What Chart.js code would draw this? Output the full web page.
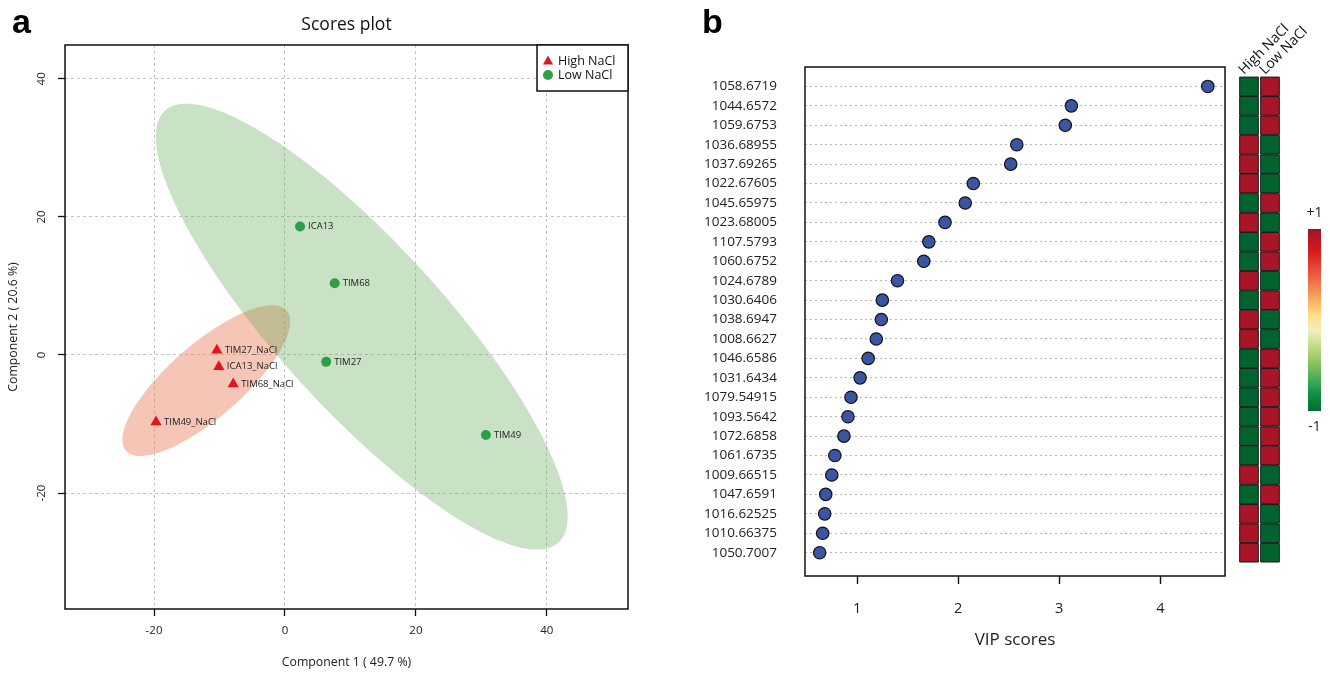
<!DOCTYPE html>
<html>
<head>
<meta charset="utf-8">
<script src="https://cdn.jsdelivr.net/npm/chart.js@4.4.0/dist/chart.umd.min.js"></script>
<style>
  html, body { margin: 0; padding: 0; background: #fff; width: 1330px; height: 674px; overflow: hidden; }
  body { position: relative; }
  canvas { position: absolute; top: 0; }
  #scores { left: 0; }
  #vip { left: 690px; }
  #heat { left: 1230px; }
</style>
</head>
<body>
<canvas id="scores" width="660" height="674"></canvas>
<canvas id="vip" width="545" height="674"></canvas>
<canvas id="heat" width="100" height="674"></canvas>
<script>
// ---- panel a: PLS-DA scores ----
const highNames = ['TIM27_NaCl', 'ICA13_NaCl', 'TIM68_NaCl', 'TIM49_NaCl'];
const highX = [-10.4, -10.1, -7.9, -19.7];
const highY = [0.7, -1.7, -4.2, -9.7];
const lowNames = ['ICA13', 'TIM68', 'TIM27', 'TIM49'];
const lowX = [2.3, 7.6, 6.3, 30.7];
const lowY = [18.6, 10.4, -1.0, -11.6];
const scoreTicks = [-20, 0, 20, 40];

// ---- panel b: VIP scores + group heatmap ----
const features = ['1058.6719', '1044.6572', '1059.6753', '1036.68955', '1037.69265', '1022.67605',
  '1045.65975', '1023.68005', '1107.5793', '1060.6752', '1024.6789', '1030.6406', '1038.6947',
  '1008.6627', '1046.6586', '1031.6434', '1079.54915', '1093.5642', '1072.6858', '1061.6735',
  '1009.66515', '1047.6591', '1016.62525', '1010.66375', '1050.7007'];
const vipScores = [4.47, 3.12, 3.06, 2.58, 2.52, 2.15, 2.07, 1.87, 1.71, 1.66, 1.40, 1.25, 1.24,
  1.19, 1.11, 1.03, 0.94, 0.91, 0.87, 0.78, 0.75, 0.69, 0.68, 0.66, 0.63];
const vipTicks = [1, 2, 3, 4];
const groups = ['High NaCl', 'Low NaCl'];
const highNaCl = [-1, -1, -1, 1, 1, 1, -1, 1, -1, -1, 1, -1, 1, 1, -1, -1, -1, -1, -1, -1, 1, -1, 1, 1, 1];
const lowNaCl = [1, 1, 1, -1, -1, -1, 1, -1, 1, 1, -1, 1, -1, -1, 1, 1, 1, 1, 1, 1, -1, 1, -1, -1, -1];

Chart.defaults.font.family = "'Open Sans', sans-serif";
Chart.defaults.color = '#222';

const RED = '#e3141f', GREEN = '#2e9f49';

function ellipse(chart, xs, ys, fill) {
  // 95% confidence ellipse (same as R ellipse(cov, centre, level = .95))
  const n = xs.length;
  const mx = xs.reduce((a, b) => a + b) / n, my = ys.reduce((a, b) => a + b) / n;
  let sxx = 0, syy = 0, sxy = 0;
  for (let i = 0; i < n; i++) {
    sxx += (xs[i] - mx) ** 2; syy += (ys[i] - my) ** 2; sxy += (xs[i] - mx) * (ys[i] - my);
  }
  const sx = Math.sqrt(sxx / (n - 1)), sy = Math.sqrt(syy / (n - 1));
  const d = Math.acos(sxy / (n - 1) / (sx * sy));
  const t = Math.sqrt(5.991);
  const xs_ = chart.scales.x, ys_ = chart.scales.y, ctx = chart.ctx;
  ctx.save();
  ctx.beginPath();
  for (let k = 0; k <= 240; k++) {
    const a = 2 * Math.PI * k / 240;
    const px = xs_.getPixelForValue(mx + t * sx * Math.cos(a + d / 2));
    const py = ys_.getPixelForValue(my + t * sy * Math.cos(a - d / 2));
    k ? ctx.lineTo(px, py) : ctx.moveTo(px, py);
  }
  ctx.closePath();
  ctx.fillStyle = fill;
  ctx.fill();
  ctx.restore();
}

const scoresPlugin = {
  id: 'scoresExtras',
  beforeDatasetsDraw(chart) {
    ellipse(chart, highX, highY, 'rgba(232,118,78,0.42)');
    ellipse(chart, lowX, lowY, 'rgba(92,165,78,0.33)');
  },
  afterDatasetsDraw(chart) {
    const ctx = chart.ctx, a = chart.chartArea;
    ctx.save();
    // point labels
    ctx.font = "9.5px 'Open Sans'";
    ctx.fillStyle = '#222';
    ctx.textBaseline = 'middle';
    [highNames, lowNames].forEach((names, di) => {
      chart.getDatasetMeta(di).data.forEach((pt, i) => ctx.fillText(names[i], pt.x + 8, pt.y));
    });
    // frame
    ctx.strokeStyle = '#111';
    ctx.lineWidth = 1.5;
    ctx.strokeRect(a.left, a.top, a.right - a.left, a.bottom - a.top);
    // legend
    const lx = a.right - 91, ly = a.top, lw = 91, lh = 46;
    ctx.fillStyle = '#fff';
    ctx.fillRect(lx, ly, lw, lh);
    ctx.strokeRect(lx, ly, lw, lh);
    ctx.font = "12.5px 'Open Sans'";
    chart.data.datasets.forEach((ds, i) => {
      const cy = ly + 16 + i * 14;
      ctx.fillStyle = ds.backgroundColor;
      ctx.beginPath();
      if (ds.pointStyle === 'triangle') {
        ctx.moveTo(lx + 11, cy - 5.5); ctx.lineTo(lx + 16, cy + 3.5); ctx.lineTo(lx + 6, cy + 3.5);
      } else {
        ctx.arc(lx + 11, cy, 5, 0, 2 * Math.PI);
      }
      ctx.fill();
      ctx.fillStyle = '#111';
      ctx.fillText(ds.label, lx + 21, cy);
    });
    // title and panel letter
    ctx.textAlign = 'center';
    ctx.font = "17.5px 'Open Sans'";
    ctx.fillText('Scores plot', (a.left + a.right) / 2, 25);
    ctx.textAlign = 'left';
    ctx.textBaseline = 'alphabetic';
    ctx.font = "bold 34px 'Liberation Sans', Arial";
    ctx.fillStyle = '#000';
    ctx.fillText('a', 12, 33);
    ctx.restore();
  }
};

const gridA = { color: '#c4c4c4', lineWidth: 1, tickLength: 7, tickColor: '#111', tickWidth: 1.3 };

new Chart(document.getElementById('scores'), {
  type: 'scatter',
  data: {
    datasets: [
      { label: 'High NaCl', data: highX.map((x, i) => ({ x, y: highY[i] })), pointStyle: 'triangle',
        pointRadius: 6.5, backgroundColor: RED, borderColor: RED, borderWidth: 0 },
      { label: 'Low NaCl', data: lowX.map((x, i) => ({ x, y: lowY[i] })), pointStyle: 'circle',
        pointRadius: 5, backgroundColor: GREEN, borderColor: GREEN, borderWidth: 0 }
    ]
  },
  options: {
    responsive: false,
    animation: false,
    layout: { padding: { top: 45, right: 32, left: 0, bottom: 0 } },
    plugins: { legend: { display: false }, tooltip: { enabled: false } },
    scales: {
      x: {
        min: -33.6, max: 52.4,
        afterBuildTicks: s => { s.ticks = scoreTicks.map(v => ({ value: v })); },
        afterFit: s => { s.height = 65; },
        grid: gridA,
        border: { display: false, dash: [3, 3] },
        ticks: { padding: 8, font: { size: 11.5 } },
        title: { display: true, text: 'Component 1 ( 49.7 %)', font: { size: 12.3 }, padding: { top: 0, bottom: 4 } }
      },
      y: {
        min: -36.8, max: 44.9,
        afterBuildTicks: s => { s.ticks = scoreTicks.map(v => ({ value: v })); },
        afterFit: s => { s.width = 65; },
        grid: gridA,
        border: { display: false, dash: [3, 3] },
        ticks: { padding: 8, minRotation: 90, maxRotation: 90, crossAlign: 'center', font: { size: 11.5 } },
        title: { display: true, text: 'Component 2 ( 20.6 %)', font: { size: 12.3 }, padding: { top: 6.5, bottom: 0 } }
      }
    }
  },
  plugins: [scoresPlugin]
});

// ---- VIP dot plot ----
const vipPlugin = {
  id: 'vipExtras',
  afterDatasetsDraw(chart) {
    const ctx = chart.ctx, a = chart.chartArea;
    ctx.save();
    ctx.strokeStyle = '#111';
    ctx.lineWidth = 1.5;
    ctx.strokeRect(a.left, a.top, a.right - a.left, a.bottom - a.top);
    ctx.font = "bold 34px 'Liberation Sans', Arial";
    ctx.fillStyle = '#000';
    ctx.fillText('b', 12, 33);
    ctx.restore();
  }
};

new Chart(document.getElementById('vip'), {
  type: 'scatter',
  data: {
    datasets: [{
      data: vipScores.map((v, i) => ({ x: v, y: i })),
      pointRadius: 6.2, backgroundColor: '#3b55a5', borderColor: '#111', borderWidth: 1.2
    }]
  },
  options: {
    responsive: false,
    animation: false,
    layout: { padding: { top: 67, right: 10, left: 0, bottom: 0 } },
    plugins: { legend: { display: false }, tooltip: { enabled: false } },
    scales: {
      x: {
        min: 0.485, max: 4.64,
        afterBuildTicks: s => { s.ticks = vipTicks.map(v => ({ value: v })); },
        afterFit: s => { s.height = 98; },
        grid: { drawOnChartArea: false, tickLength: 8, tickColor: '#111', tickWidth: 1.4 },
        border: { display: false },
        ticks: { padding: 16, font: { size: 14.5 } },
        title: { display: true, text: 'VIP scores', font: { size: 17 }, padding: { top: 0, bottom: 24 } }
      },
      y: {
        min: -1, max: 25.2, reverse: true,
        afterBuildTicks: s => { s.ticks = features.map((f, i) => ({ value: i })); },
        afterFit: s => { s.width = 115; },
        grid: { color: '#b8b8b8', drawTicks: false },
        border: { display: false, dash: [2, 3] },
        ticks: { padding: 28, autoSkip: false, callback: v => features[v], font: { size: 13.5 } }
      }
    }
  },
  plugins: [vipPlugin]
});

// ---- group heatmap + colour key ----
const cellColor = v => (v > 0 ? '#a81526' : '#03632f');
const keyPlugin = {
  id: 'colourKey',
  afterDraw(chart) {
    const ctx = chart.ctx, xs = chart.scales.x;
    ctx.save();
    // column labels, rotated
    ctx.fillStyle = '#111';
    ctx.font = "14px 'Open Sans'";
    groups.forEach((g, c) => {
      ctx.save();
      ctx.translate(xs.getPixelForValue(c) - 5, 75);
      ctx.rotate(-Math.PI / 4);
      ctx.fillText(g, 0, 0);
      ctx.restore();
    });
    // colour key
    const x0 = 78, y0 = 229, w = 13, h = 182;
    const g = ctx.createLinearGradient(0, y0, 0, y0 + h);
    [[0, '#9e1429'], [0.12, '#d7191c'], [0.28, '#ef6b45'], [0.4, '#f8b463'], [0.48, '#fde08c'],
     [0.56, '#f1efc0'], [0.66, '#b9d97a'], [0.78, '#6cb85a'], [0.9, '#11934a'], [1, '#056a33']]
      .forEach(([p, c]) => g.addColorStop(p, c));
    ctx.fillStyle = g;
    ctx.fillRect(x0, y0, w, h);
    ctx.fillStyle = '#222';
    ctx.font = "14px 'Open Sans'";
    ctx.textAlign = 'center';
    ctx.textBaseline = 'middle';
    ctx.fillText('+1', x0 + w / 2, 213);
    ctx.fillText('-1', x0 + w / 2, 427);
    ctx.restore();
  }
};

new Chart(document.getElementById('heat'), {
  type: 'scatter',
  data: {
    datasets: [highNaCl, lowNaCl].map((col, c) => ({
      label: groups[c],
      data: col.map((v, i) => ({ x: c, y: i })),
      pointStyle: 'rect', pointRadius: 13.2,
      backgroundColor: col.map(cellColor), borderColor: '#1b1b1b', borderWidth: 1
    }))
  },
  options: {
    responsive: false,
    animation: false,
    layout: { autoPadding: false, padding: { top: 67, left: 8.5, right: 49.5, bottom: 98 } },
    plugins: { legend: { display: false }, tooltip: { enabled: false } },
    scales: {
      x: { display: false, min: -0.5, max: 1.5 },
      y: { display: false, min: -1, max: 25.2, reverse: true }
    }
  },
  plugins: [keyPlugin]
});
</script>
</body>
</html>
